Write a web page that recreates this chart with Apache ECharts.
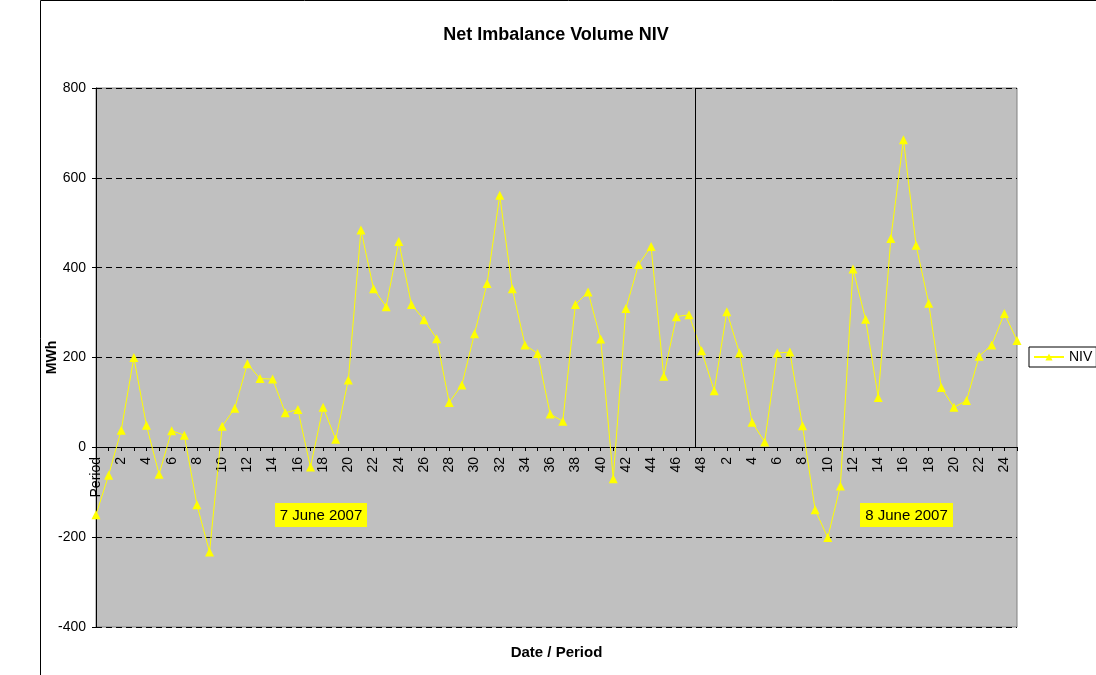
<!DOCTYPE html>
<html>
<head>
<meta charset="utf-8">
<title>Net Imbalance Volume NIV</title>
<script src="https://cdn.jsdelivr.net/npm/echarts@6/dist/echarts.min.js"></script>
<style>
  html, body { margin: 0; padding: 0; background: #fff; }
  #chart { width: 1096px; height: 675px; }
</style>
</head>
<body>
<div id="chart"></div>
<script>
// 数据：7 June 2007 (首点为 "Period") 和 8 June 2007
var niv7June = [-150, -62, 38, 200, 49, -60, 37, 27, -128, -233,
                47, 87, 186, 153, 152, 77, 84, -44, 89, 18,
                150, 484, 353, 313, 458, 318, 284, 242, 100, 139,
                253, 365, 561, 353, 228, 209, 74, 58, 318, 346,
                241, -70, 309, 407, 447, 158, 291, 295, 215]
var niv8June = [126, 302, 210, 56, 12, 210, 212, 48, -139, -201,
                -86, 397, 285, 111, 465, 685, 450, 321, 133, 89,
                104, 203, 228, 298, 238]
var yTicks = { min: -400, max: 800, step: 200 }
var dateLabels = ['7 June 2007', '8 June 2007']

var periods = ['Period']
for (var i = 1; i <= 48; i++) periods.push(String(i))
for (var j = 1; j <= 25; j++) periods.push(String(j))
var values = niv7June.concat(niv8June)

var font = 'Liberation Sans, Arial, sans-serif'
var myChart = echarts.init(document.getElementById('chart'))

// 绘图区：上 88，下 627
var plotTop = 88, plotBottom = 627
// 分类轴放在零线上（向上偏移）
var zeroY = plotTop + (plotBottom - plotTop) * yTicks.max / (yTicks.max - yTicks.min)
var xOffset = -Math.round(plotBottom - zeroY)

function dateBox(text, x, y, w, h) {
    return {
        type: 'group', x: x, y: y, z: 10,
        children: [
            { type: 'rect', shape: { x: 0, y: 0, width: w, height: h }, style: { fill: '#FFFF00' } },
            { type: 'text', x: w / 2, y: h / 2 + 1,
              style: { text: text, fill: '#000', font: '15px ' + font, align: 'center', verticalAlign: 'middle' } }
        ]
    }
}

var option = {
    animation: false,
    backgroundColor: '#fff',
    title: {
        text: 'Net Imbalance Volume NIV',
        left: 551, top: 21, textAlign: 'center',
        textStyle: { fontFamily: font, fontSize: 18, fontWeight: 'bold', color: '#000' }
    },
    legend: {
        data: ['NIV'],
        left: 1029, top: 347,
        padding: [3, 4, 3, 4],
        borderColor: '#000', borderWidth: 1,
        itemWidth: 30, itemHeight: 9,
        textStyle: { fontFamily: font, fontSize: 14, color: '#000' }
    },
    grid: {
        left: 96, right: 79, top: plotTop, bottom: 675 - plotBottom,
        outerBoundsMode: 'none',
        containLabel: false,
        show: true, backgroundColor: '#C0C0C0',
        borderColor: '#808080', borderWidth: 1
    },
    xAxis: {
        type: 'category',
        data: periods,
        boundaryGap: false,
        position: 'bottom',
        offset: xOffset,
        name: 'Date / Period',
        nameLocation: 'middle',
        nameGap: 198,
        nameMoveOverlap: false,
        nameTextStyle: { fontFamily: font, fontSize: 15, fontWeight: 'bold', color: '#000' },
        axisLine: { onZero: false, lineStyle: { color: '#000', width: 1 } },
        axisTick: { show: true, interval: 0, length: 4, lineStyle: { color: '#000' } },
        axisLabel: { interval: 1, rotate: 90, margin: 10, fontFamily: font, fontSize: 14, color: '#000' },
        splitLine: { show: false }
    },
    yAxis: {
        type: 'value',
        min: yTicks.min, max: yTicks.max, interval: yTicks.step,
        name: 'MWh',
        nameLocation: 'middle',
        nameGap: 37,
        nameMoveOverlap: false,
        nameTextStyle: { fontFamily: font, fontSize: 14, fontWeight: 'bold', color: '#000' },
        axisLine: { show: true, lineStyle: { color: '#000', width: 1 } },
        axisTick: { show: true, length: 4, lineStyle: { color: '#000' } },
        axisLabel: { margin: 10, fontFamily: font, fontSize: 14, color: '#000' },
        splitLine: { show: true, lineStyle: { color: '#000', type: [6, 4], width: 1 } }
    },
    series: [{
        name: 'NIV',
        type: 'line',
        data: values,
        symbol: 'triangle',
        symbolSize: 9,
        showAllSymbol: true,
        lineStyle: { color: '#FFFF00', width: 1 },
        itemStyle: { color: '#FFFF00', borderWidth: 0 }
    }],
    graphic: [
        { type: 'rect', silent: true, shape: { x: 40.5, y: 0.5, width: 1100, height: 700 },
          style: { fill: 'none', stroke: '#000', lineWidth: 1 } },
        dateBox(dateLabels[0], 275, 503, 92, 24),
        dateBox(dateLabels[1], 860, 503, 93, 24)
    ]
}
myChart.setOption(option)

// 两天之间的分隔线：位于第 47 和 48 个时段之间，从顶部到零轴
var xa = myChart.convertToPixel({ xAxisIndex: 0 }, 47)
var xb = myChart.convertToPixel({ xAxisIndex: 0 }, 48)
var yTop = myChart.convertToPixel({ yAxisIndex: 0 }, yTicks.max)
var yZero = myChart.convertToPixel({ yAxisIndex: 0 }, 0)
var xm = Math.round((xa + xb) / 2) + 0.5
option.graphic.push({
    type: 'line', silent: true, z: 5,
    shape: { x1: xm, y1: yTop, x2: xm, y2: yZero },
    style: { stroke: '#000', lineWidth: 1 }
})
myChart.setOption({ graphic: option.graphic })
</script>
</body>
</html>
